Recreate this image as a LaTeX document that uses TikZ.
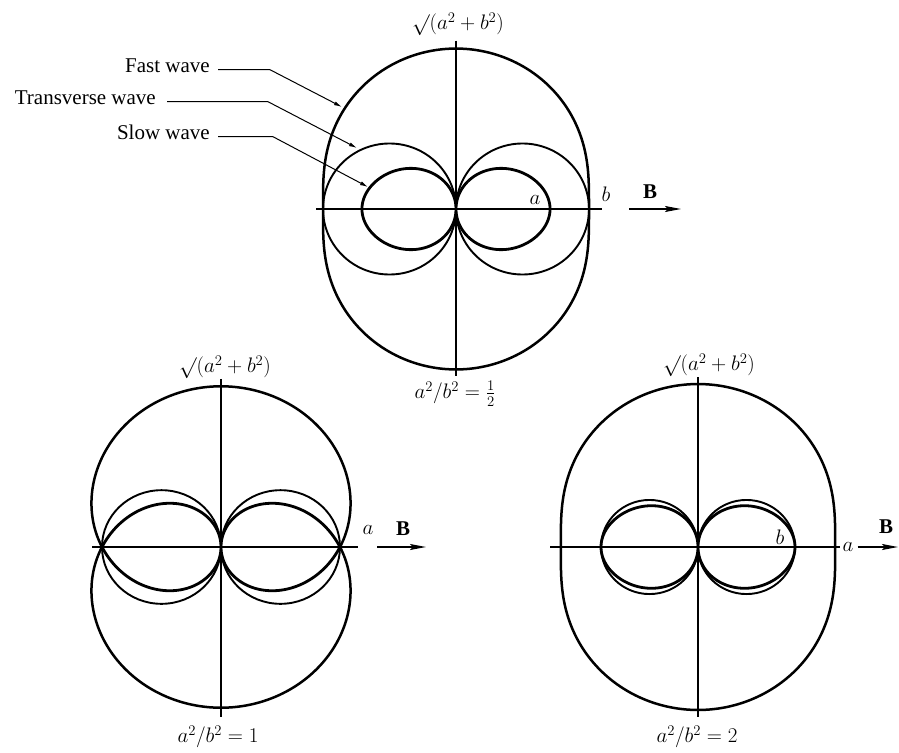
\documentclass[tikz,border=0pt]{standalone}
\usepackage{fix-cm}
\usepackage{fontspec}
\setmainfont{Liberation Serif}
\usetikzlibrary{arrows.meta}
\begin{document}
\begin{tikzpicture}[x=1pt,y=-1pt,
  declare function={
    rf(\t,\A)=sqrt(0.5*((\A+1)+sqrt(abs((\A+1)^2-4*\A*cos(\t)^2))));
    rs(\t,\A)=sqrt(abs(0.5*((\A+1)-sqrt(abs((\A+1)^2-4*\A*cos(\t)^2)))));
  },
  axisline/.style={line width=1.2pt},
  fastw/.style={line width=2.5pt, line join=round},
  sloww/.style={line width=2.8pt, line join=round},
  transw/.style={line width=1.9pt},
  leader/.style={line width=1pt, -{Latex[length=8pt,width=4pt]}},
  fieldarrow/.style={line width=1.5pt, -{Stealth[length=16pt,width=6pt,inset=3pt]}},
  lbl/.style={font=\fontsize{21}{25}\selectfont, inner sep=0pt},
]
\useasboundingbox (0,0) rectangle (899,752);

% ---------- top diagram: a^2/b^2 = 1/2 ----------
\begin{scope}[shift={(456,209)}, yscale=0.985]
  \draw[axisline] (-140,0) -- (146,0);
  \draw[axisline] (0,-171) -- (0,170);
  \draw[fastw] plot[domain=0:360,samples=361] (\x:{133*rf(\x,0.5)}) -- cycle;
  \draw[sloww] plot[domain=0:360,samples=361] (\x:{133*rs(\x,0.5)}) -- cycle;
  \draw[transw] (66.5,0) circle[radius=66.5];
  \draw[transw] (-66.5,0) circle[radius=66.5];
\end{scope}

\node[lbl] (topsqrt) at (458,24) {$\surd(a^2+b^2)$};
\node[lbl, anchor=north] (topratio) at (455,381) {$a^2/b^2=\frac{1}{2}$};
\node[lbl] (topa) at (535,200) {$a$};
\node[lbl] (topb) at (606,194) {$b$};
\node[lbl] (topB) at (650,192) {$\mathbf{B}$};
\coordinate (topBs) at (629,209);
\coordinate (topBe) at (681,209);
\draw[fieldarrow] (topBs) -- (topBe);

\node[lbl, anchor=base east] (fastlbl) at (210,72) {Fast wave};
\node[lbl, anchor=base east] (translbl) at (156,104) {Transverse wave};
\node[lbl, anchor=base east] (slowlbl) at (210,139) {Slow wave};
\coordinate (fasttip) at (342,107);
\coordinate (transtip) at (357,148);
\coordinate (slowtip) at (368,187);
\draw[leader] ([xshift=8pt]fastlbl.mid east) -- +(52,0) -- (fasttip);
\draw[leader] ([xshift=11pt]translbl.mid east) -- +(101,0) -- (transtip);
\draw[leader] ([xshift=8pt]slowlbl.mid east) -- +(55,0) -- (slowtip);

% ---------- bottom-left diagram: a^2/b^2 = 1 ----------
\begin{scope}[shift={(221,547)}, yscale=0.955]
  \draw[axisline] (-129,0) -- (137,0);
  \draw[axisline] (0,-176) -- (0,178);
  \draw[fastw] plot[domain=0:360,samples=361] (\x:{119*rf(\x,1)}) -- cycle;
  \draw[sloww] plot[domain=0:360,samples=361] (\x:{119*rs(\x,1)}) -- cycle;
  \draw[transw] (59.5,0) circle[radius=59.5];
  \draw[transw] (-59.5,0) circle[radius=59.5];
\end{scope}

\node[lbl] (blsqrt) at (225,367) {$\surd(a^2+b^2)$};
\node[lbl] (blratio) at (218,737) {$a^2/b^2=1$};
\node[lbl] (bla) at (368,530) {$a$};
\node[lbl] (blB) at (403,529) {$\mathbf{B}$};
\coordinate (blBs) at (377,547);
\coordinate (blBe) at (426,547);
\draw[fieldarrow] (blBs) -- (blBe);

% ---------- bottom-right diagram: a^2/b^2 = 2 ----------
\begin{scope}[shift={(698,547)}, yscale=0.97]
  \draw[axisline] (-148,0) -- (142,0);
  \draw[axisline] (0,-175) -- (0,175);
  \draw[fastw] plot[domain=0:360,samples=361] (\x:{97*rf(\x,2)}) -- cycle;
  \draw[sloww] plot[domain=0:360,samples=361] (\x:{97*rs(\x,2)}) -- cycle;
  \draw[transw] (48.5,0) circle[radius=48.5];
  \draw[transw] (-48.5,0) circle[radius=48.5];
\end{scope}

\node[lbl] (brsqrt) at (709,365) {$\surd(a^2+b^2)$};
\node[lbl] (brratio) at (697,737) {$a^2/b^2=2$};
\node[lbl] (brb) at (780,537) {$b$};
\node[lbl] (bra) at (848,547) {$a$};
\node[lbl] (brB) at (886,527) {$\mathbf{B}$};
\coordinate (brBe) at (898,547);
\draw[fieldarrow] ([xshift=4pt]bra.east) -- (brBe);
\end{tikzpicture}
\end{document}
